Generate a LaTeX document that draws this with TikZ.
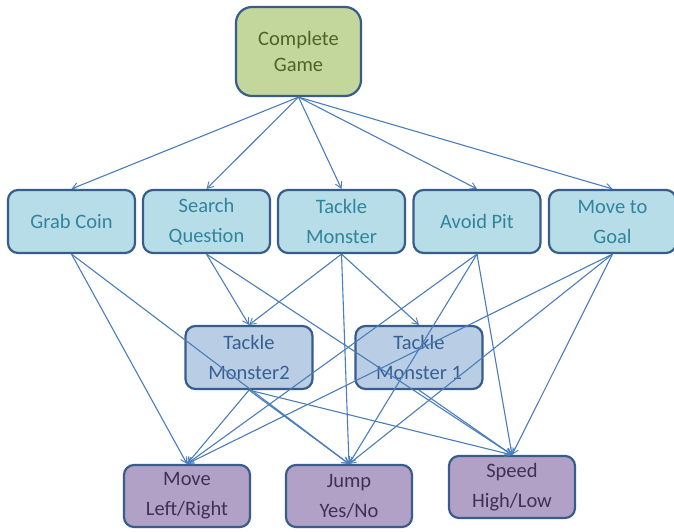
\documentclass[tikz,border=0pt]{standalone}
\usepackage{fontspec}
\setmainfont{Carlito}
\usetikzlibrary{arrows.meta}
\pgfdeclarelayer{bg}
\pgfsetlayers{bg,main}
\definecolor{edgeblue}{RGB}{74,126,187}
\definecolor{boxline}{RGB}{56,93,138}
\definecolor{topfill}{RGB}{195,214,155}
\definecolor{toptext}{RGB}{79,98,40}
\definecolor{midfill}{RGB}{183,221,232}
\definecolor{midtext}{RGB}{49,133,155}
\definecolor{tmfill}{RGB}{185,205,229}
\definecolor{tmtext}{RGB}{55,96,146}
\definecolor{lowfill}{RGB}{178,161,199}
\definecolor{lowtext}{RGB}{64,49,82}
\begin{document}
\begin{tikzpicture}[x=1pt,y=-1pt,
  box/.style={draw=boxline, line width=2.2pt, rounded corners=10pt,
    minimum width=127pt, minimum height=63pt, align=center, inner sep=0pt,
    font=\fontsize{20.5}{30}\selectfont},
  topbox/.style={box, fill=topfill, text=toptext, minimum width=125pt,
    minimum height=89pt, rounded corners=16pt, font=\fontsize{20.5}{26}\selectfont},
  midbox/.style={box, fill=midfill, text=midtext},
  tmbox/.style={box, fill=tmfill, text=tmtext},
  lowbox/.style={box, fill=lowfill, text=lowtext, minimum width=126pt, minimum height=62pt},
  link/.style={draw=edgeblue, line width=1.1pt,
    -{Straight Barb[length=6pt,width=7pt,line width=0.9pt]}}
]
\useasboundingbox (0,0) rectangle (674,531);
\clip (0,0) rectangle (674,531);
\fill[white] (0,0) rectangle (674,531);

\node[topbox] (cg) at (298.5,51.5) {Complete\\Game};
\node[midbox] (gc) at (71.5,221.5) {Grab Coin};
\node[midbox] (sq) at (206.5,221.5) {Search\\Question};
\node[midbox] (tm) at (341.5,221.5) {Tackle\\Monster};
\node[midbox] (ap) at (477,221.5) {Avoid Pit};
\node[midbox] (mg) at (612.5,221.5) {Move to\\Goal};
\node[tmbox] (tm2) at (249,357.5) {Tackle\\Monster2};
\node[tmbox] (tm1) at (419,357.5) {Tackle\\Monster 1};
\node[lowbox] (ml) at (187,496) {Move\\Left/Right};
\node[lowbox] (jp) at (349,496) {Jump\\Yes/No};
\node[lowbox] (sp) at (512,487) {Speed\\High/Low};

\begin{pgfonlayer}{bg}
\draw[link] (sq.south) -- (jp.north);
\end{pgfonlayer}

\foreach \t in {gc,sq,tm,ap,mg} \draw[link] (cg.south) -- (\t.north);
\draw[link] (gc.south) -- (ml.north);
\draw[link] (gc.south) -- (jp.north);
\draw[link] (sq.south) -- (tm2.north);
\draw[link] (sq.south) -- (sp.north);
\draw[link] (tm.south) -- (tm2.north);
\draw[link] (tm.south) -- (tm1.north);
\draw[link] (tm.south) -- (jp.north);
\draw[link] (ap.south) -- (ml.north);
\draw[link] (ap.south) -- (jp.north);
\draw[link] (ap.south) -- (sp.north);
\draw[link] (mg.south) -- (ml.north);
\draw[link] (mg.south) -- (jp.north);
\draw[link] (mg.south) -- (sp.north);
\draw[link] (tm2.south) -- (ml.north);
\draw[link] (tm2.south) -- (jp.north);
\draw[link] (tm2.south) -- (sp.north);
\draw[link] (tm1.south) -- (sp.north);
\end{tikzpicture}
\end{document}
